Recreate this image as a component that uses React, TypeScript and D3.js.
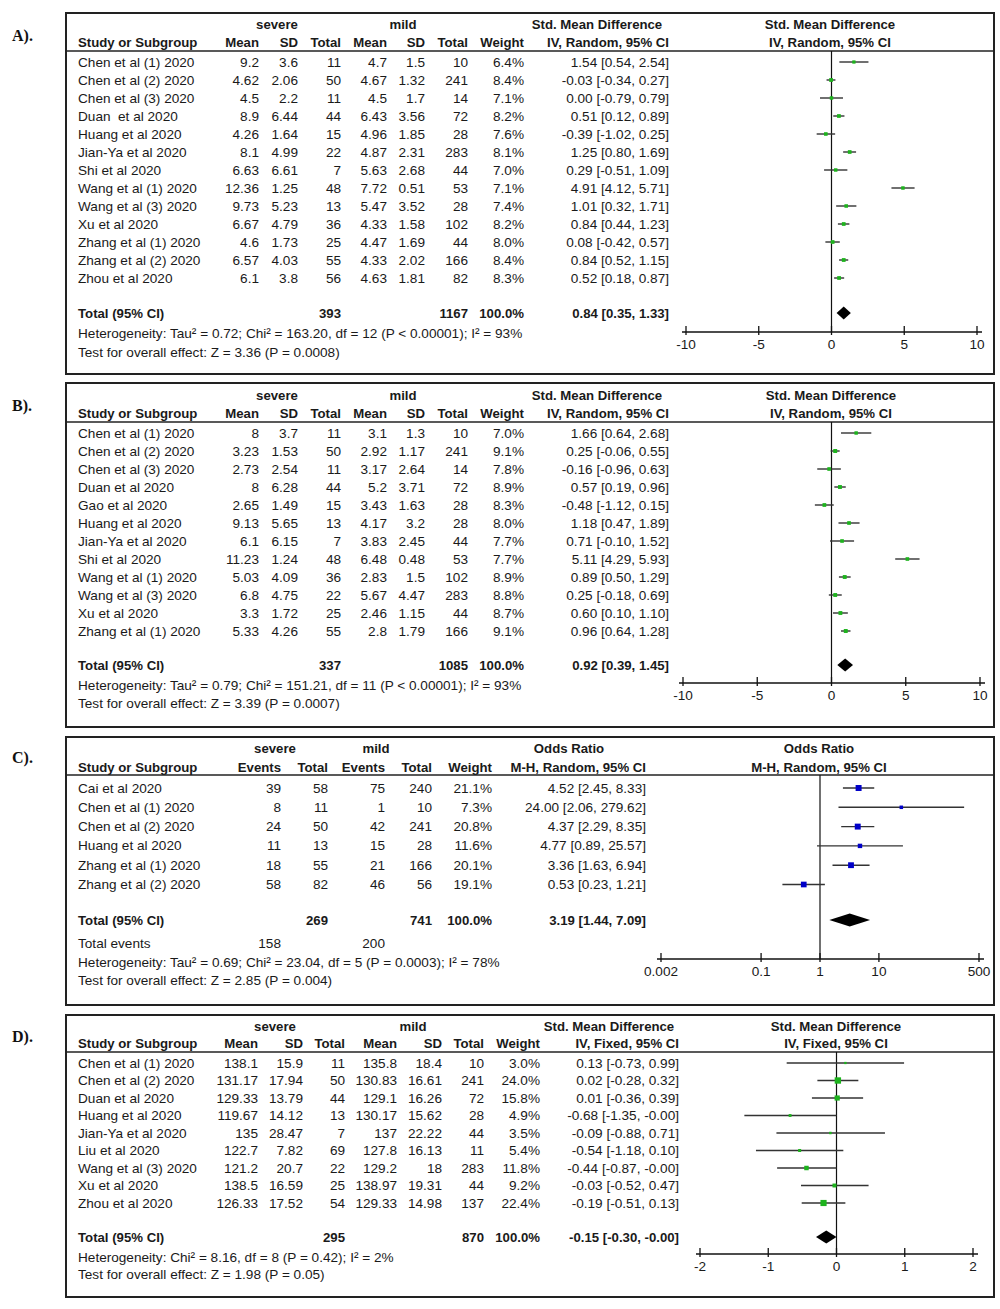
import React from "react";
import * as d3 from "d3";

// ---------- Panel A data ----------
const studiesA = ["Chen et al (1) 2020", "Chen et al (2) 2020", "Chen et al (3) 2020", "Duan  et al 2020", "Huang et al 2020", "Jian-Ya et al 2020", "Shi et al 2020", "Wang et al (1) 2020", "Wang et al (3) 2020", "Xu et al 2020", "Zhang et al (1) 2020", "Zhang et al (2) 2020", "Zhou et al 2020"];
const sevMeanA = [9.2, 4.62, 4.5, 8.9, 4.26, 8.1, 6.63, 12.36, 9.73, 6.67, 4.6, 6.57, 6.1];
const sevSDA = [3.6, 2.06, 2.2, 6.44, 1.64, 4.99, 6.61, 1.25, 5.23, 4.79, 1.73, 4.03, 3.8];
const sevNA = [11, 50, 11, 44, 15, 22, 7, 48, 13, 36, 25, 55, 56];
const milMeanA = [4.7, 4.67, 4.5, 6.43, 4.96, 4.87, 5.63, 7.72, 5.47, 4.33, 4.47, 4.33, 4.63];
const milSDA = [1.5, 1.32, 1.7, 3.56, 1.85, 2.31, 2.68, 0.51, 3.52, 1.58, 1.69, 2.02, 1.81];
const milNA = [10, 241, 14, 72, 28, 283, 44, 53, 28, 102, 44, 166, 82];
const weightA = [6.4, 8.4, 7.1, 8.2, 7.6, 8.1, 7.0, 7.1, 7.4, 8.2, 8.0, 8.4, 8.3];
const estA = [1.54, -0.03, 0.0, 0.51, -0.39, 1.25, 0.29, 4.91, 1.01, 0.84, 0.08, 0.84, 0.52];
const loA = [0.54, -0.34, -0.79, 0.12, -1.02, 0.8, -0.51, 4.12, 0.32, 0.44, -0.42, 0.52, 0.18];
const hiA = [2.54, 0.27, 0.79, 0.89, 0.25, 1.69, 1.09, 5.71, 1.71, 1.23, 0.57, 1.15, 0.87];
const totalA = { n1: 393, n2: 1167, est: 0.84, lo: 0.35, hi: 1.33 };
const hetA = "Heterogeneity: Tau\u00b2 = 0.72; Chi\u00b2 = 163.20, df = 12 (P < 0.00001); I\u00b2 = 93%";
const testA = "Test for overall effect: Z = 3.36 (P = 0.0008)";

// ---------- Panel B data ----------
const studiesB = ["Chen et al (1) 2020", "Chen et al (2) 2020", "Chen et al (3) 2020", "Duan et al 2020", "Gao et al 2020", "Huang et al 2020", "Jian-Ya et al 2020", "Shi et al 2020", "Wang et al (1) 2020", "Wang et al (3) 2020", "Xu et al 2020", "Zhang et al (1) 2020"];
const sevMeanB = [8, 3.23, 2.73, 8, 2.65, 9.13, 6.1, 11.23, 5.03, 6.8, 3.3, 5.33];
const sevSDB = [3.7, 1.53, 2.54, 6.28, 1.49, 5.65, 6.15, 1.24, 4.09, 4.75, 1.72, 4.26];
const sevNB = [11, 50, 11, 44, 15, 13, 7, 48, 36, 22, 25, 55];
const milMeanB = [3.1, 2.92, 3.17, 5.2, 3.43, 4.17, 3.83, 6.48, 2.83, 5.67, 2.46, 2.8];
const milSDB = [1.3, 1.17, 2.64, 3.71, 1.63, 3.2, 2.45, 0.48, 1.5, 4.47, 1.15, 1.79];
const milNB = [10, 241, 14, 72, 28, 28, 44, 53, 102, 283, 44, 166];
const weightB = [7.0, 9.1, 7.8, 8.9, 8.3, 8.0, 7.7, 7.7, 8.9, 8.8, 8.7, 9.1];
const estB = [1.66, 0.25, -0.16, 0.57, -0.48, 1.18, 0.71, 5.11, 0.89, 0.25, 0.6, 0.96];
const loB = [0.64, -0.06, -0.96, 0.19, -1.12, 0.47, -0.1, 4.29, 0.5, -0.18, 0.1, 0.64];
const hiB = [2.68, 0.55, 0.63, 0.96, 0.15, 1.89, 1.52, 5.93, 1.29, 0.69, 1.1, 1.28];
const totalB = { n1: 337, n2: 1085, est: 0.92, lo: 0.39, hi: 1.45 };
const hetB = "Heterogeneity: Tau\u00b2 = 0.79; Chi\u00b2 = 151.21, df = 11 (P < 0.00001); I\u00b2 = 93%";
const testB = "Test for overall effect: Z = 3.39 (P = 0.0007)";

// ---------- Panel C data ----------
const studiesC = ["Cai et al 2020", "Chen et al (1) 2020", "Chen et al (2) 2020", "Huang et al 2020", "Zhang et al (1) 2020", "Zhang et al (2) 2020"];
const sevEvC = [39, 8, 24, 11, 18, 58];
const sevNC = [58, 11, 50, 13, 55, 82];
const milEvC = [75, 1, 42, 15, 21, 46];
const milNC = [240, 10, 241, 28, 166, 56];
const weightC = [21.1, 7.3, 20.8, 11.6, 20.1, 19.1];
const estC = [4.52, 24.0, 4.37, 4.77, 3.36, 0.53];
const loC = [2.45, 2.06, 2.29, 0.89, 1.63, 0.23];
const hiC = [8.33, 279.62, 8.35, 25.57, 6.94, 1.21];
const totalC = { n1: 269, n2: 741, est: 3.19, lo: 1.44, hi: 7.09 };
const totalEventsC = [158, 200];
const hetC = "Heterogeneity: Tau\u00b2 = 0.69; Chi\u00b2 = 23.04, df = 5 (P = 0.0003); I\u00b2 = 78%";
const testC = "Test for overall effect: Z = 2.85 (P = 0.004)";

// ---------- Panel D data ----------
const studiesD = ["Chen et al (1) 2020", "Chen et al (2) 2020", "Duan et al 2020", "Huang et al 2020", "Jian-Ya et al 2020", "Liu et al 2020", "Wang et al (3) 2020", "Xu et al 2020", "Zhou et al 2020"];
const sevMeanD = [138.1, 131.17, 129.33, 119.67, 135, 122.7, 121.2, 138.5, 126.33];
const sevSDD = [15.9, 17.94, 13.79, 14.12, 28.47, 7.82, 20.7, 16.59, 17.52];
const sevND = [11, 50, 44, 13, 7, 69, 22, 25, 54];
const milMeanD = [135.8, 130.83, 129.1, 130.17, 137, 127.8, 129.2, 138.97, 129.33];
const milSDD = [18.4, 16.61, 16.26, 15.62, 22.22, 16.13, 18, 19.31, 14.98];
const milND = [10, 241, 72, 28, 44, 11, 283, 44, 137];
const weightD = [3.0, 24.0, 15.8, 4.9, 3.5, 5.4, 11.8, 9.2, 22.4];
const estD = [0.13, 0.02, 0.01, -0.68, -0.09, -0.54, -0.44, -0.03, -0.19];
const loD = [-0.73, -0.28, -0.36, -1.35, -0.88, -1.18, -0.87, -0.52, -0.51];
const hiD = [0.99, 0.32, 0.39, -0, 0.71, 0.1, -0, 0.47, 0.13];
const totalD = { n1: 295, n2: 870, est: -0.15, lo: -0.3, hi: -0 };
const hetD = "Heterogeneity: Chi\u00b2 = 8.16, df = 8 (P = 0.42); I\u00b2 = 2%";
const testD = "Test for overall effect: Z = 1.98 (P = 0.05)";

// ---------- Axis ticks ----------
const ticksAB = [-10, -5, 0, 5, 10];
const ticksC = [0.002, 0.1, 1, 10, 500];
const ticksD = [-2, -1, 0, 1, 2];

const FONT = "'Liberation Sans', Arial, sans-serif";
const TXT = "#1a1a1a";
const GREEN = "#1db31d";
const BLUE = "#0000c8";
const FS = 13.6;
const FSB = 13.2;

const f2 = (v: number) => (Object.is(v, -0) ? "-" : "") + v.toFixed(2);
const ciText = (e: number, l: number, h: number) => `${f2(e)} [${f2(l)}, ${f2(h)}]`;
const pct = (w: number) => w.toFixed(1) + "%";

type Col = { vals: (number | string)[]; x: number; head: string; total?: string };

type PanelCfg = {
  label: string; labelY: number; top: number; bottom: number;
  h1: number; h2: number; sep: number; row0: number; step: number;
  totalY: number; extraRows?: { y: number; cells: { x: number; text: string; anchor: string }[] }[];
  footer: { y: number; text: string }[];
  axisY: number; scale: any; ticks: number[]; log: boolean;
  studies: string[]; cols: Col[]; groups: { text: string; x: number }[];
  ciHead: string; ciHeadX: number; ciSub: string; ciX: number; plotHeadX: number;
  est: number[]; lo: number[]; hi: number[]; weights: number[]; color: string;
  total: { est: number; lo: number; hi: number };
};

const Panel = ({ p }: { p: PanelCfg }) => {
  const left = 66, right = 994;
  const x = p.scale;
  const [d0, d1] = x.domain();
  const zeroX = p.log ? x(1) : x(0);
  const rowY = (i: number) => p.row0 + i * p.step;
  const fmtTick = (t: number) => String(t);
  const B = { fontWeight: "bold" as const, fontSize: FSB };
  return (
    <g fontFamily={FONT} fontSize={FS} fill={TXT}>
      <text x={12} y={p.labelY} fontFamily="'Liberation Serif', 'Times New Roman', serif" fontWeight="bold" fontSize={16} dominantBaseline="central" fill="#111">{p.label}</text>
      <rect x={left} y={p.top} width={right - left} height={p.bottom - p.top} fill="white" stroke="#222" strokeWidth={2} />
      {/* headers */}
      {p.groups.map((g, i) => (
        <text key={"g" + i} x={g.x} y={p.h1} textAnchor="middle" {...B} dominantBaseline="central">{g.text}</text>
      ))}
      <text x={p.ciHeadX} y={p.h1} textAnchor="middle" {...B} dominantBaseline="central">{p.ciHead}</text>
      <text x={p.plotHeadX} y={p.h1} textAnchor="middle" {...B} dominantBaseline="central">{p.ciHead}</text>
      <text x={78} y={p.h2} {...B} dominantBaseline="central">Study or Subgroup</text>
      {p.cols.map((c, i) => (
        <text key={"h" + i} x={c.x} y={p.h2} textAnchor="end" {...B} dominantBaseline="central">{c.head}</text>
      ))}
      <text x={p.ciX} y={p.h2} textAnchor="end" {...B} dominantBaseline="central">{p.ciSub}</text>
      <text x={p.plotHeadX} y={p.h2} textAnchor="middle" {...B} dominantBaseline="central">{p.ciSub}</text>
      <line x1={left} x2={right} y1={p.sep} y2={p.sep} stroke="#222" strokeWidth={1.5} />
      {/* rows */}
      {p.studies.map((s, i) => (
        <g key={"r" + i}>
          <text x={78} y={rowY(i)} dominantBaseline="central" style={{ whiteSpace: "pre" }}>{s}</text>
          {p.cols.map((c, j) => (
            <text key={j} x={c.x} y={rowY(i)} textAnchor="end" dominantBaseline="central">{String(c.vals[i])}</text>
          ))}
          <text x={p.ciX} y={rowY(i)} textAnchor="end" dominantBaseline="central">{ciText(p.est[i], p.lo[i], p.hi[i])}</text>
        </g>
      ))}
      {/* total row */}
      <text x={78} y={p.totalY} {...B} dominantBaseline="central">Total (95% CI)</text>
      {p.cols.map((c, j) => c.total ? (
        <text key={"t" + j} x={c.x} y={p.totalY} textAnchor="end" {...B} dominantBaseline="central">{c.total}</text>
      ) : null)}
      <text x={p.ciX} y={p.totalY} textAnchor="end" {...B} dominantBaseline="central">{ciText(p.total.est, p.total.lo, p.total.hi)}</text>
      {(p.extraRows || []).map((r, i) => (
        <g key={"e" + i}>
          {r.cells.map((c, j) => (
            <text key={j} x={c.x} y={r.y} textAnchor={c.anchor as any} dominantBaseline="central">{c.text}</text>
          ))}
        </g>
      ))}
      {p.footer.map((f, i) => (
        <text key={"f" + i} x={78} y={f.y} dominantBaseline="central">{f.text}</text>
      ))}
      {/* plot */}
      <line x1={zeroX} x2={zeroX} y1={p.sep} y2={p.axisY} stroke="#111" strokeWidth={1.2} />
      {p.studies.map((s, i) => {
        const sz = Math.max(2.2, 1.3 * Math.sqrt(p.weights[i]));
        const cx = x(p.est[i]);
        return (
          <g key={"m" + i}>
            <line x1={x(p.lo[i])} x2={x(p.hi[i])} y1={rowY(i)} y2={rowY(i)} stroke="#333" strokeWidth={1.4} />
            <rect x={cx - sz / 2} y={rowY(i) - sz / 2} width={sz} height={sz} fill={p.color} />
          </g>
        );
      })}
      <polygon
        points={[[x(p.total.lo), p.totalY], [x(p.total.est), p.totalY - 6.5], [x(p.total.hi), p.totalY], [x(p.total.est), p.totalY + 6.5]].map(q => q.join(",")).join(" ")}
        fill="#000"
      />
      {/* axis */}
      <line x1={x(d0) - 4} x2={x(d1) + 5} y1={p.axisY} y2={p.axisY} stroke="#111" strokeWidth={1.3} />
      {p.ticks.map((t, i) => (
        <g key={"k" + i}>
          <line x1={x(t)} x2={x(t)} y1={p.axisY - 6} y2={p.axisY + 3} stroke="#111" strokeWidth={1.3} />
          <text x={x(t)} y={p.axisY + 12} textAnchor="middle" dominantBaseline="central">{fmtTick(t)}</text>
        </g>
      ))}
    </g>
  );
};

export default function App() {
  const colsA = (sm: number[], ss: number[], sn: number[], mm: number[], ms: number[], mn: number[], w: number[], t: any): Col[] => [
    { vals: sm, x: 259, head: "Mean" },
    { vals: ss, x: 298, head: "SD" },
    { vals: sn, x: 341, head: "Total", total: String(t.n1) },
    { vals: mm, x: 387, head: "Mean" },
    { vals: ms, x: 425, head: "SD" },
    { vals: mn, x: 468, head: "Total", total: String(t.n2) },
    { vals: w.map(pct), x: 524, head: "Weight", total: "100.0%" },
  ];

  const panels: PanelCfg[] = [
    {
      label: "A).", labelY: 35, top: 13, bottom: 374, h1: 24, h2: 42, sep: 51, row0: 62, step: 18,
      totalY: 313, footer: [{ y: 333, text: hetA }, { y: 352, text: testA }],
      axisY: 332, scale: d3.scaleLinear().domain([-10, 10]).range([686, 977]), ticks: ticksAB, log: false,
      studies: studiesA, cols: colsA(sevMeanA, sevSDA, sevNA, milMeanA, milSDA, milNA, weightA, totalA),
      groups: [{ text: "severe", x: 277 }, { text: "mild", x: 403 }],
      ciHead: "Std. Mean Difference", ciHeadX: 597, ciSub: "IV, Random, 95% CI", ciX: 669, plotHeadX: 830,
      est: estA, lo: loA, hi: hiA, weights: weightA, color: GREEN, total: totalA,
    },
    {
      label: "B).", labelY: 405, top: 383, bottom: 727, h1: 395, h2: 413, sep: 422, row0: 433, step: 18,
      totalY: 665, footer: [{ y: 685, text: hetB }, { y: 703, text: testB }],
      axisY: 683, scale: d3.scaleLinear().domain([-10, 10]).range([683, 980]), ticks: ticksAB, log: false,
      studies: studiesB, cols: colsA(sevMeanB, sevSDB, sevNB, milMeanB, milSDB, milNB, weightB, totalB),
      groups: [{ text: "severe", x: 277 }, { text: "mild", x: 403 }],
      ciHead: "Std. Mean Difference", ciHeadX: 597, ciSub: "IV, Random, 95% CI", ciX: 669, plotHeadX: 831,
      est: estB, lo: loB, hi: hiB, weights: weightB, color: GREEN, total: totalB,
    },
    {
      label: "C).", labelY: 757, top: 737, bottom: 1005, h1: 748, h2: 767, sep: 775, row0: 788, step: 19.3,
      totalY: 920,
      extraRows: [{ y: 943, cells: [{ x: 78, text: "Total events", anchor: "start" }, { x: 281, text: String(totalEventsC[0]), anchor: "end" }, { x: 385, text: String(totalEventsC[1]), anchor: "end" }] }],
      footer: [{ y: 962, text: hetC }, { y: 980, text: testC }],
      axisY: 959, scale: d3.scaleLog().domain([0.002, 500]).range([661, 979]), ticks: ticksC, log: true,
      studies: studiesC,
      cols: [
        { vals: sevEvC, x: 281, head: "Events" },
        { vals: sevNC, x: 328, head: "Total", total: String(totalC.n1) },
        { vals: milEvC, x: 385, head: "Events" },
        { vals: milNC, x: 432, head: "Total", total: String(totalC.n2) },
        { vals: weightC.map(pct), x: 492, head: "Weight", total: "100.0%" },
      ],
      groups: [{ text: "severe", x: 275 }, { text: "mild", x: 376 }],
      ciHead: "Odds Ratio", ciHeadX: 569, ciSub: "M-H, Random, 95% CI", ciX: 646, plotHeadX: 819,
      est: estC, lo: loC, hi: hiC, weights: weightC, color: BLUE, total: totalC,
    },
    {
      label: "D).", labelY: 1036, top: 1015, bottom: 1297, h1: 1026, h2: 1043, sep: 1052, row0: 1063, step: 17.5,
      totalY: 1237, footer: [{ y: 1257, text: hetD }, { y: 1274, text: testD }],
      axisY: 1254, scale: d3.scaleLinear().domain([-2, 2]).range([700, 973]), ticks: ticksD, log: false,
      studies: studiesD,
      cols: [
        { vals: sevMeanD, x: 258, head: "Mean" },
        { vals: sevSDD, x: 303, head: "SD" },
        { vals: sevND, x: 345, head: "Total", total: String(totalD.n1) },
        { vals: milMeanD, x: 397, head: "Mean" },
        { vals: milSDD, x: 442, head: "SD" },
        { vals: milND, x: 484, head: "Total", total: String(totalD.n2) },
        { vals: weightD.map(pct), x: 540, head: "Weight", total: "100.0%" },
      ],
      groups: [{ text: "severe", x: 275 }, { text: "mild", x: 413 }],
      ciHead: "Std. Mean Difference", ciHeadX: 609, ciSub: "IV, Fixed, 95% CI", ciX: 679, plotHeadX: 836,
      est: estD, lo: loD, hi: hiD, weights: weightD, color: GREEN, total: totalD,
    },
  ];

  return (
    <svg width={1000} height={1309} style={{ position: "absolute", left: 0, top: 0, background: "white" }}>
      <rect x={0} y={0} width={1000} height={1309} fill="white" />
      {panels.map((p, i) => <Panel key={i} p={p} />)}
    </svg>
  );
}
